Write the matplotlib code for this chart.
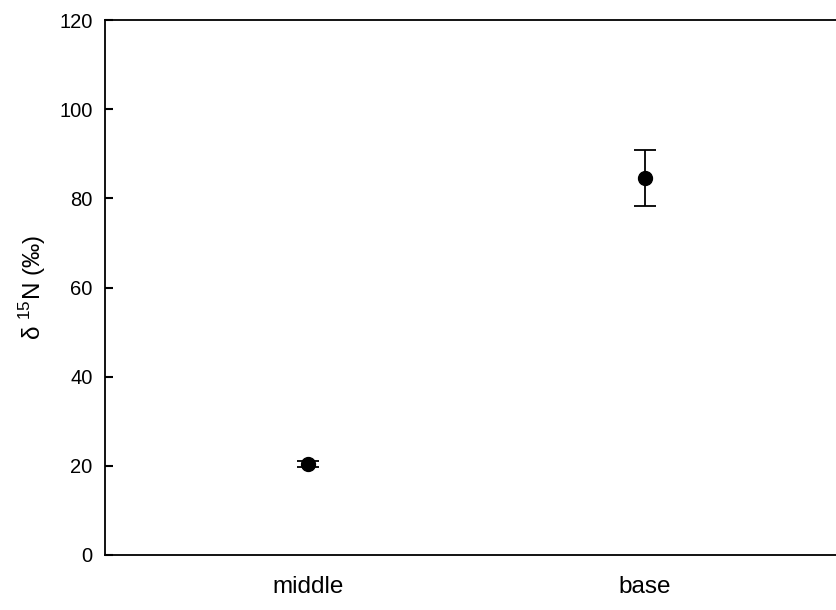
import matplotlib
matplotlib.use('Agg')
import matplotlib.pyplot as plt

# data
sites = ['middle', 'base']
d15n = [20.4, 84.6]
d15n_err = [0.6, 6.3]
yticks = [0, 20, 40, 60, 80, 100, 120]

plt.rcParams['font.family'] = ['Liberation Sans', 'DejaVu Sans']
plt.rcParams['mathtext.fontset'] = 'custom'
plt.rcParams['mathtext.rm'] = 'Liberation Sans'
plt.rcParams['ytick.direction'] = 'in'

fig = plt.figure(figsize=(8.37, 6.10), dpi=100)
ax = fig.add_axes([105 / 837, 1 - 555 / 610, (847 - 105) / 837, (555 - 20) / 610])

xpos = [1, 2]
ax.errorbar(xpos, d15n, yerr=d15n_err, fmt='o', color='black', markersize=10,
            capsize=8, elinewidth=1.3, capthick=1.3)

ax.set_xlim(0.398, 2.6)
ax.set_ylim(0, 120)
ax.set_yticks(yticks)
ax.set_xticks(xpos)
ax.set_xticklabels(sites)
ax.tick_params(axis='y', direction='in', length=6, width=1.5, labelsize=14.5, pad=9)
ax.tick_params(axis='x', length=0, labelsize=17.5, pad=15)
for s in ax.spines.values():
    s.set_linewidth(1.3)

ax.set_ylabel('\u03b4 $^{15}$N (\u2030)', fontsize=17.5, labelpad=8)

fig.savefig('out.png', dpi=100)
